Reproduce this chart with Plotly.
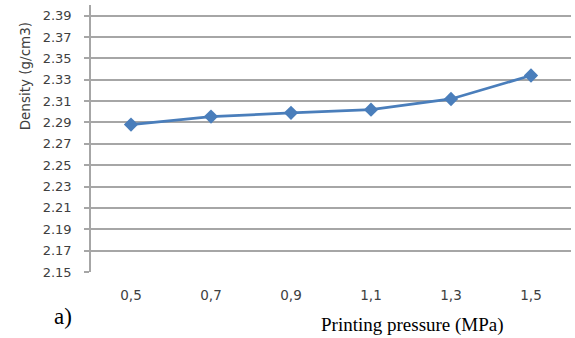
import plotly.graph_objects as go

pressure_labels = ["0,5", "0,7", "0,9", "1,1", "1,3", "1,5"]
density = [2.288, 2.2955, 2.299, 2.302, 2.312, 2.334]
y_ticks = [2.15, 2.17, 2.19, 2.21, 2.23, 2.25, 2.27, 2.29, 2.31, 2.33, 2.35, 2.37, 2.39]

fig = go.Figure()
fig.add_trace(go.Scatter(
    x=pressure_labels, y=density, mode="lines+markers",
    line=dict(color="#4a7ebb", width=2.75),
    marker=dict(symbol="diamond", size=11, color="#4a7ebb"),
    showlegend=False,
))

fig.update_layout(
    width=575, height=338,
    margin=dict(l=91, r=4, t=4.5, b=66),
    paper_bgcolor="white", plot_bgcolor="white",
    font=dict(family="DejaVu Sans", size=13, color="#404040"),
    xaxis=dict(
        type="category", range=[-0.5, 5.5],
        showgrid=False, showline=False, zeroline=False,
        ticks="", tickfont=dict(size=13.5, color="#404040"),
        ticklabelstandoff=13,
    ),
    yaxis=dict(
        range=[2.15, 2.40], tickvals=y_ticks,
        ticktext=[f"{v:.2f}" for v in y_ticks],
        showgrid=True, gridcolor="#a6a6a6", gridwidth=1.5,
        showline=True, linecolor="#a6a6a6", linewidth=1.5,
        ticks="outside", ticklen=5, tickcolor="#a6a6a6", tickwidth=1.5,
        zeroline=False, tickfont=dict(size=13, color="#404040"),
        ticklabelstandoff=10,
    ),
    annotations=[
        dict(text="Density (g/cm3)", textangle=-90, x=25, y=76,
             showarrow=False,
             font=dict(size=13.5, color="#404040")),
        dict(text="a)", x=63, y=317, showarrow=False,
             font=dict(family="Liberation Serif", size=23, color="black")),
        dict(text="Printing pressure (MPa)", x=412, y=325, showarrow=False,
             font=dict(family="Liberation Serif", size=19, color="black")),
    ],
)

# convert pixel positions for annotations into paper coords
pw = 575 - 91 - 4
ph = 338 - 4.5 - 66
for a in fig.layout.annotations:
    a.xref = "paper"; a.yref = "paper"
    a.x = (a.x - 91) / pw
    a.y = (338 - 66 - a.y) / ph
    a.xanchor = "center"; a.yanchor = "middle"

fig.write_html("out.html")
